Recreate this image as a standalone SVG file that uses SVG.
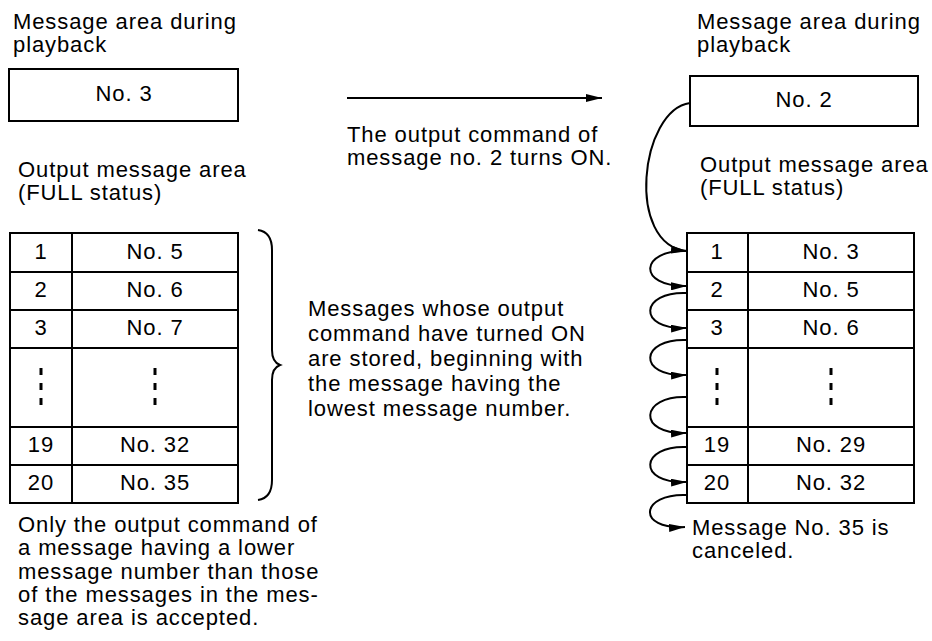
<svg xmlns="http://www.w3.org/2000/svg" width="932" height="641" viewBox="0 0 932 641">
<style>
text{font-family:"Liberation Sans",Arial,sans-serif;font-size:22px;fill:#000;letter-spacing:0.9px}
.c{text-anchor:middle}
.box{fill:#fff;stroke:#000;stroke-width:2}
.ln{stroke:#000;stroke-width:2;fill:none}
.dots{stroke:#000;stroke-width:3;stroke-dasharray:7 8;fill:none}
.con{stroke:#000;stroke-width:2;fill:none;marker-end:url(#ah)}
</style>
<defs>
<marker id="ah" viewBox="0 0 16 8" refX="16" refY="4" markerWidth="16" markerHeight="8" markerUnits="userSpaceOnUse" orient="auto">
<path d="M0,0 L16,4 L0,8 z" fill="#000"/>
</marker>
</defs>
<rect width="932" height="641" fill="#fff"/>

<g id="left-labels">
<text x="13" y="29">Message area during</text>
<text x="13" y="52">playback</text>
<text x="18" y="177">Output message area</text>
<text x="18" y="200">(FULL status)</text>
</g>

<g id="left-playback">
<rect class="box" x="9" y="69" width="229" height="52"/>
<text class="c" x="124" y="101">No. 3</text>
</g>

<g id="left-table">
<rect class="box" x="10" y="233" width="228" height="270"/>
<path class="ln" d="M72,233 V503 M10,272 H238 M10,310 H238 M10,348 H238 M10,427 H238 M10,465 H238"/>
<path class="dots" d="M41,368 V406 M155,368 V406"/>
<text class="c" x="41" y="259">1</text><text class="c" x="155" y="259">No. 5</text>
<text class="c" x="41" y="297">2</text><text class="c" x="155" y="297">No. 6</text>
<text class="c" x="41" y="335">3</text><text class="c" x="155" y="335">No. 7</text>
<text class="c" x="41" y="452">19</text><text class="c" x="155" y="452">No. 32</text>
<text class="c" x="41" y="490">20</text><text class="c" x="155" y="490">No. 35</text>
</g>

<g id="brace">
<path class="ln" d="M258,230 Q272,232 272,250 L272,350 Q272,362 280,365 Q272,368 272,380 L272,480 Q272,498 258,500"/>
</g>

<g id="brace-note">
<text x="308" y="316">Messages whose output</text>
<text x="308" y="341">command have turned ON</text>
<text x="308" y="366">are stored, beginning with</text>
<text x="308" y="391">the message having the</text>
<text x="308" y="416">lowest message number.</text>
</g>

<g id="bottom-note">
<text x="18" y="532">Only the output command of</text>
<text x="18" y="555">a message having a lower</text>
<text x="18" y="579">message number than those</text>
<text x="18" y="602">of the messages in the mes-</text>
<text x="18" y="625">sage area is accepted.</text>
</g>

<g id="transition-note">
<text x="347" y="142">The output command of</text>
<text x="347" y="165">message no. 2 turns ON.</text>
</g>

<g id="right-labels">
<text x="697" y="29">Message area during</text>
<text x="697" y="52">playback</text>
<text x="700" y="172">Output message area</text>
<text x="700" y="195">(FULL status)</text>
</g>

<g id="right-playback">
<rect class="box" x="690" y="76" width="228" height="50"/>
<text class="c" x="804" y="107">No. 2</text>
</g>

<g id="right-table">
<rect class="box" x="687" y="233" width="227" height="270"/>
<path class="ln" d="M748,233 V503 M687,272 H914 M687,310 H914 M687,348 H914 M687,427 H914 M687,465 H914"/>
<path class="dots" d="M717,368 V406 M831,368 V406"/>
<text class="c" x="717" y="259">1</text><text class="c" x="831" y="259">No. 3</text>
<text class="c" x="717" y="297">2</text><text class="c" x="831" y="297">No. 5</text>
<text class="c" x="717" y="335">3</text><text class="c" x="831" y="335">No. 6</text>
<text class="c" x="717" y="452">19</text><text class="c" x="831" y="452">No. 29</text>
<text class="c" x="717" y="490">20</text><text class="c" x="831" y="490">No. 32</text>
</g>

<g id="canceled-note">
<text x="692" y="535">Message No. 35 is</text>
<text x="692" y="558">canceled.</text>
</g>

<g id="connectors">
<path class="con" d="M347,98 H602"/>
<path class="con" d="M690,103 C640,110 625,245 687,251"/>
<path class="con" d="M687,251 C640,249 636,287 687,286"/>
<path class="con" d="M687,293 C640,291 636,330 687,328"/>
<path class="con" d="M687,340 C640,338 636,377 687,375"/>
<path class="con" d="M687,397 C640,395 636,435 687,433"/>
<path class="con" d="M687,447 C640,445 636,484 687,482"/>
<path class="con" d="M687,495 C640,493 636,530 685,527"/>
</g>
</svg>
